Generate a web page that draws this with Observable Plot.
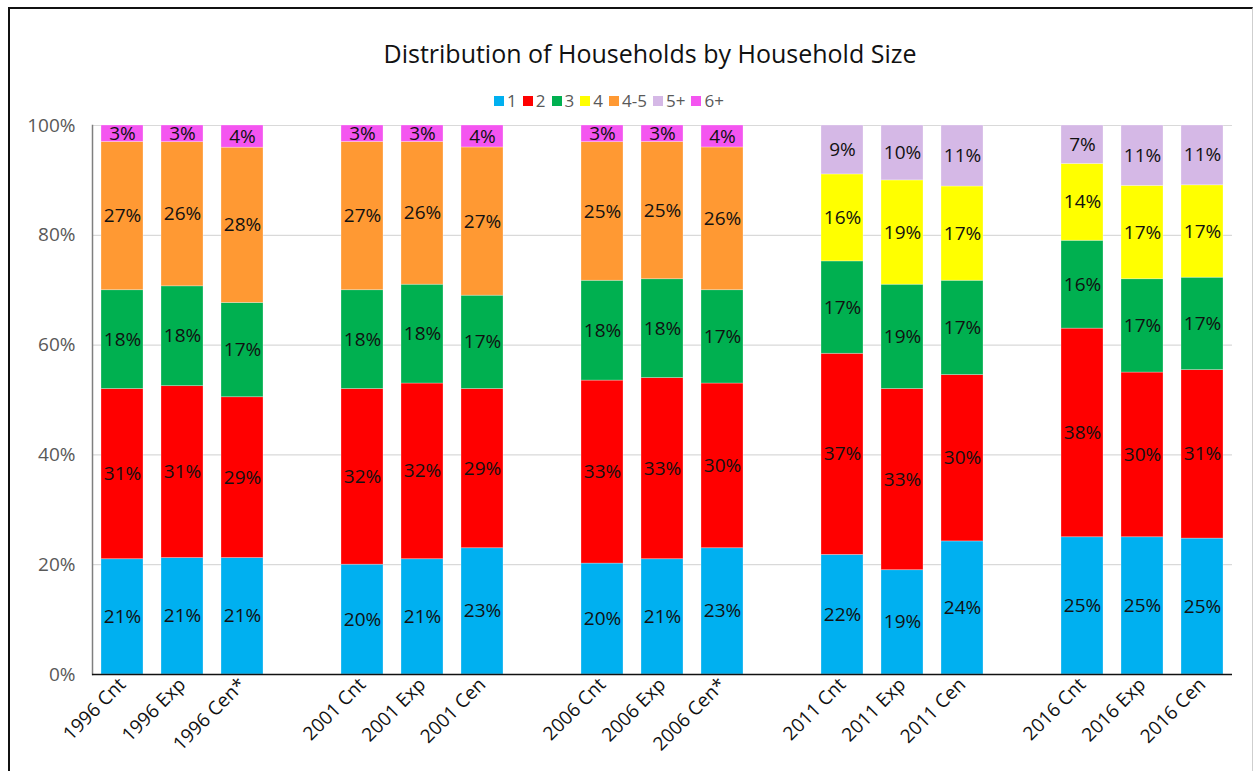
<!DOCTYPE html>
<html>
<head>
<meta charset="utf-8">
<script src="https://cdn.jsdelivr.net/npm/d3@7"></script>
<script src="https://cdn.jsdelivr.net/npm/@observablehq/plot@0.6"></script>
<style>
  html, body { margin: 0; padding: 0; background: #fff; }
  #wrap { position: relative; width: 1257px; height: 771px; overflow: hidden; font-family: "Open Sans", sans-serif; }
  #frame { position: absolute; left: 8px; top: 7px; width: 1245px; height: 780px; border-top: 2px solid #111; border-left: 2px solid #111; border-right: 1px solid #cfcfcf; box-sizing: border-box; }
  #title { position: absolute; left: 0; top: 36px; width: 1300px; text-align: center; font-size: 25px; color: #111; }
  #legend { position: absolute; left: 0; top: 89px; width: 1218px; display: flex; justify-content: center; gap: 6px; font-size: 17px; color: #595959; }
  #legend span.item { display: inline-flex; align-items: center; gap: 3px; }
  #legend span.sw { width: 10px; height: 10px; display: inline-block; }
  #chart { position: absolute; left: 0; top: 0; }
</style>
</head>
<body>
<div id="wrap">
  <div id="frame"></div>
  <div id="title">Distribution of Households by Household Size</div>
  <div id="legend"></div>
  <div id="chart"></div>
</div>
<script>
// Survey columns: count, expanded estimate and census for each year
const categories = [
  "1996 Cnt", "1996 Exp", "1996 Cen*",
  "2001 Cnt", "2001 Exp", "2001 Cen",
  "2006 Cnt", "2006 Exp", "2006 Cen*",
  "2011 Cnt", "2011 Exp", "2011 Cen",
  "2016 Cnt", "2016 Exp", "2016 Cen"
];

// Household size classes (bottom to top of each bar) and their colours
const sizes = ["1", "2", "3", "4", "4-5", "5+", "6+"];
const sizeColors = ["#00B0F0", "#FF0000", "#00B050", "#FFFF00", "#FF9933", "#D5B8E6", "#F455F0"];

// Share of households (%) per size class, one entry per category; null = class not used
const size1   = [21, 21, 21, 20, 21, 23, 20, 21, 23, 22, 19, 24, 25, 25, 25];
const size2   = [31, 31, 29, 32, 32, 29, 33, 33, 30, 37, 33, 30, 38, 30, 31];
const size3   = [18, 18, 17, 18, 18, 17, 18, 18, 17, 17, 19, 17, 16, 17, 17];
const size4   = [null, null, null, null, null, null, null, null, null, 16, 19, 17, 14, 17, 17];
const size4to5 = [27, 26, 28, 27, 26, 27, 25, 25, 26, null, null, null, null, null, null];
const size5p  = [null, null, null, null, null, null, null, null, null, 9, 10, 11, 7, 11, 11];
const size6p  = [3, 3, 4, 3, 3, 4, 3, 3, 4, null, null, null, null, null, null];

const yTicks = [0, 0.2, 0.4, 0.6, 0.8, 1];

// Long table for the stacked bars
const series = [size1, size2, size3, size4, size4to5, size5p, size6p];
const rows = [];
sizes.forEach((s, i) => {
  categories.forEach((c, j) => {
    const v = series[i][j];
    if (v != null) rows.push({cat: c, size: s, value: v});
  });
});

// Band domain with an empty slot between survey years
const xDomain = [];
categories.forEach((c, j) => {
  xDomain.push(c);
  if (j % 3 === 2 && j < categories.length - 1) xDomain.push(" ".repeat(j / 3 + 1));
});

// Legend
const legend = document.getElementById("legend");
sizes.forEach((s, i) => {
  const item = document.createElement("span");
  item.className = "item";
  const sw = document.createElement("span");
  sw.className = "sw";
  sw.style.background = sizeColors[i];
  item.appendChild(sw);
  item.appendChild(document.createTextNode(s));
  legend.appendChild(item);
});

const stackOpts = {x: "cat", y: "value", z: "size", offset: "normalize", order: sizes};

const chart = Plot.plot({
  width: 1257,
  height: 771,
  marginLeft: 92,
  marginRight: 25,
  marginTop: 125,
  marginBottom: 97,
  style: {fontFamily: "Open Sans, sans-serif", fontSize: "19px", background: "transparent"},
  x: {domain: xDomain, paddingInner: 0.3, paddingOuter: 0.15, label: null},
  y: {domain: [0, 1], label: null},
  color: {domain: sizes, range: sizeColors},
  marks: [
    Plot.gridY(yTicks, {stroke: "#d9d9d9", strokeOpacity: 1, strokeWidth: 1.2}),
    Plot.barY(rows, Plot.stackY({...stackOpts, fill: "size", stroke: "#ffffff", strokeOpacity: 0.35, strokeWidth: 0.8})),
    Plot.text(rows, Plot.stackY({...stackOpts, text: d => d.value + "%", fill: "#111", fontSize: 19})),
    Plot.axisY({ticks: yTicks, tickFormat: d3.format(".0%"), tickSize: 0, tickPadding: 17, color: "#595959", fontSize: 19}),
    Plot.axisX({tickSize: 0, tickRotate: -45, tickPadding: 7, color: "#111", fontSize: 19,
      tickFormat: d => d.trim() === "" ? "" : d}),
    Plot.frame({anchor: "left", stroke: "#7f7f7f", strokeWidth: 1.5}),
    Plot.ruleY([0], {stroke: "#111", strokeWidth: 1.5})
  ]
});
document.getElementById("chart").appendChild(chart);
</script>
</body>
</html>
